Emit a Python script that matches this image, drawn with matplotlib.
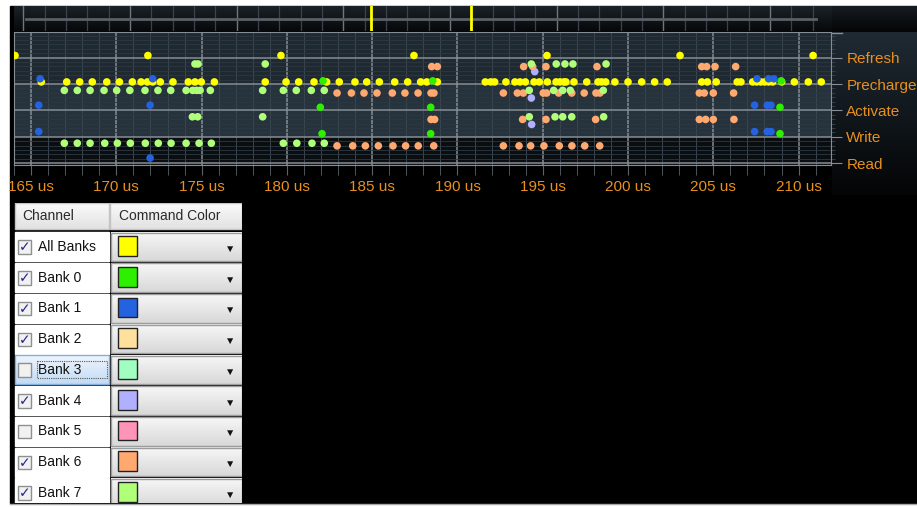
import numpy as np
import matplotlib.pyplot as plt
from matplotlib.patches import Rectangle
from matplotlib.colors import LinearSegmentedColormap
from matplotlib.ticker import MultipleLocator

plt.rcParams['font.family'] = ['Liberation Sans', 'DejaVu Sans']

# ---- data -------------------------------------------------------------
commands = ['Read', 'Write', 'Activate', 'Precharge', 'Refresh']
x_ticks = [165, 170, 175, 180, 185, 190, 195, 200, 205, 210]

channels = ['All Banks', 'Bank 0', 'Bank 1', 'Bank 2', 'Bank 3',
            'Bank 4', 'Bank 5', 'Bank 6', 'Bank 7']
enabled = [True, True, True, True, False, True, False, True, True]
channel_colors = ['#ffff00', '#2cf000', '#2462e0', '#ffe09c', '#a0ffc0',
                  '#b0b0ff', '#ff94b8', '#ffa870', '#b0ff78']
selected = 'Bank 3'

# command times (us)
all_refresh = [164.06, 171.85, 179.65, 187.45, 195.25, 203.05, 210.85]
all_precharge = [165.60, 167.09, 167.85, 168.59, 169.44, 170.18, 170.94, 171.45,
                 171.82, 172.13, 172.58, 173.32, 174.22, 174.61, 174.98, 175.75,
                 178.73, 179.95, 180.69, 181.59, 182.33, 183.07, 183.99, 184.68,
                 185.42, 186.32, 187.08, 187.84, 188.20, 188.82, 191.63, 191.95,
                 192.18, 192.84, 193.37, 193.67, 193.98, 194.49, 194.80, 195.27,
                 195.78, 196.01, 196.24, 196.36, 196.83, 197.58, 198.24, 198.45,
                 198.69, 199.23, 200.00, 200.80, 201.56, 202.30, 204.32, 204.65,
                 205.17, 206.40, 206.62, 207.31, 207.54, 207.78, 208.01, 208.24,
                 208.48, 209.01, 209.75, 210.57, 211.33]

b0_precharge = [182.12, 188.55, 208.98]
b0_activate = [181.96, 188.43, 208.91]
b0_write = [182.06, 188.43, 208.91]

b1_precharge = [165.53, 172.13, 207.56, 208.24, 208.55]
b1_activate = [165.45, 171.98, 207.42, 208.16, 208.38]
b1_write = [165.45, 207.42, 208.16, 208.38]
b1_read = [171.98]

b4_precharge = [194.53]
b4_activate = [194.33]
b4_write = [194.35]

b6_precharge = [188.49, 188.82, 193.88, 194.41, 195.19, 198.18, 204.32, 204.61,
                205.10, 206.31]
b6_activate = [182.94, 183.78, 184.52, 185.28, 186.18, 186.92, 187.69, 188.45,
               188.62, 192.69, 193.51, 193.86, 195.03, 195.23, 195.93, 196.70,
               197.43, 198.12, 198.35, 204.18, 204.47, 205.00, 206.19]
b6_write = [188.45, 188.66, 193.82, 195.19, 198.10, 204.18, 204.55, 205.00, 206.21]
b6_read = [182.94, 183.86, 184.60, 185.36, 186.22, 186.96, 187.70, 188.61,
           192.69, 193.61, 194.29, 195.07, 195.97, 196.71, 197.46, 198.34]

b7_precharge = [174.61, 174.79, 178.73, 194.33, 195.79, 196.30, 196.77, 198.71]
b7_activate = [166.95, 167.71, 168.46, 169.28, 170.02, 170.79, 171.68, 172.44,
               173.19, 174.09, 174.48, 174.71, 174.91, 175.51, 178.58, 179.79,
               180.55, 181.43, 182.19, 194.21, 195.64, 196.17, 196.61, 198.55]
b7_write = [174.46, 174.77, 178.58, 194.21, 195.72, 196.17, 196.70, 198.57]
b7_read = [166.95, 167.71, 168.46, 169.32, 170.06, 170.82, 171.70, 172.46,
           173.21, 174.09, 174.85, 175.57, 179.79, 180.58, 181.47, 182.19]

# overview bar: visible-window markers
overview_marks = [16.3, 21.0]

series = [
    ('All Banks', 'Refresh', all_refresh), ('All Banks', 'Precharge', all_precharge),
    ('Bank 0', 'Precharge', b0_precharge), ('Bank 0', 'Activate', b0_activate),
    ('Bank 0', 'Write', b0_write),
    ('Bank 1', 'Precharge', b1_precharge), ('Bank 1', 'Activate', b1_activate),
    ('Bank 1', 'Write', b1_write), ('Bank 1', 'Read', b1_read),
    ('Bank 4', 'Precharge', b4_precharge), ('Bank 4', 'Activate', b4_activate),
    ('Bank 4', 'Write', b4_write),
    ('Bank 6', 'Precharge', b6_precharge), ('Bank 6', 'Activate', b6_activate),
    ('Bank 6', 'Write', b6_write), ('Bank 6', 'Read', b6_read),
    ('Bank 7', 'Precharge', b7_precharge), ('Bank 7', 'Activate', b7_activate),
    ('Bank 7', 'Write', b7_write), ('Bank 7', 'Read', b7_read),
]

# lane offset of each channel inside a command row
lane = {'All Banks': 0.08, 'Bank 0': 0.12, 'Bank 1': 0.2, 'Bank 4': 0.47,
        'Bank 6': 0.66, 'Bank 7': 0.76}

# ---- layout helpers ---------------------------------------------------
W, H = 917, 507
ORANGE = '#e8901e'
GRID = '#868d94'


def box(x0, y0, x1, y1):
    return [x0 / W, 1 - y1 / H, (x1 - x0) / W, (y1 - y0) / H]


def vgrad(ax, x0, x1, y0, y1, top, bottom, z=0):
    cmap = LinearSegmentedColormap.from_list('g', [top, bottom])
    ax.imshow(np.linspace(0, 1, 50)[:, None], cmap=cmap, aspect='auto',
              extent=(x0, x1, y1, y0), zorder=z, interpolation='bilinear')


fig = plt.figure(figsize=(W / 100, H / 100), dpi=100, facecolor='white')

# window background
bg = fig.add_axes([0, 0, 1, 1])
bg.axis('off')
bg.add_patch(Rectangle((10, 6), W - 10, 497, color='black', zorder=0))
vgrad(bg, 832, W, 6, 32, '#161c21', '#040506', z=1)
vgrad(bg, 832, W, 32, 195, '#1f2a33', '#040506', z=1)
bg.plot([831, 842], [32.5, 32.5], color=GRID, lw=1, zorder=2)
bg.plot([10, W], [503.5, 503.5], color='#a8a8a8', lw=1, zorder=2)
bg.set_xlim(0, W)
bg.set_ylim(H, 0)

# overview strip
ov = fig.add_axes(box(14, 6, 832, 31))
vgrad(ov, -0.44, 37.9, 1, 0, '#1b2228', '#07090b')
ov.set_xlim(-0.44, 37.9)
ov.set_ylim(0, 1)
ov.xaxis.set_major_locator(MultipleLocator(5))
ov.xaxis.set_minor_locator(MultipleLocator(1))
ov.grid(which='major', axis='x', color='#70767c', lw=1)
ov.grid(which='minor', axis='x', color='#3c444b', lw=0.9)
ov.tick_params(which='both', length=0, labelbottom=False, labelleft=False)
for s in ov.spines.values():
    s.set_visible(False)
ov.axhline(0.5, xmin=0.015, xmax=0.981, color='#5a6066', lw=2)
for m in overview_marks:
    ov.axvline(m, color='#ffff00', lw=2)

# main command chart
ax = fig.add_axes(box(14, 32, 831, 165))
ax.set_facecolor('#1f2a33')
ax.axhspan(3, 6, color='#1f2931', zorder=0.5, lw=0)
ax.axhspan(1, 3, color='#26333d', zorder=0.5, lw=0)
ax.axhspan(-1, 1, color='#0b0e11', zorder=0.5, lw=0)

for ch, cmd, times in series:
    y = commands.index(cmd) + lane[ch]
    ax.scatter(times, [y] * len(times), s=30, color=channel_colors[channels.index(ch)],
               edgecolors='none', zorder=3)

ax.set_xlim(164.0, 211.9)
ax.set_ylim(-0.065, 4.97)
ax.set_xticks(x_ticks, [f'{t} us' for t in x_ticks])
ax.set_yticks(range(len(commands)), commands)
ax.xaxis.set_minor_locator(MultipleLocator(1))
ax.yaxis.set_minor_locator(MultipleLocator(1 / 6))
ax.grid(which='major', color=GRID, lw=1.1)
ax.grid(which='minor', axis='x', color='#3a4650', lw=0.7)
ax.grid(which='minor', axis='y', color='#2d3841', lw=0.6)
ax.tick_params(axis='x', which='both', direction='out', length=7, color='#5b636a',
               labelcolor=ORANGE, labelsize=11, pad=4)
ax.tick_params(axis='y', which='major', left=False, right=True, labelleft=False,
               labelright=True, length=8, color=GRID, labelcolor=ORANGE,
               labelsize=11, pad=3)
ax.tick_params(axis='y', which='minor', left=False, right=True, length=3,
               color='#3a4650')
for s in ax.spines.values():
    s.set_color(GRID)

# channel / colour table
tb = fig.add_axes(box(14, 203, 242, 503))
tb.axis('off')
vgrad(tb, 0.5, 94.5, -0.92, -0.07, '#fbfbfb', '#e2e2e2', z=1)
vgrad(tb, 96, 227.5, -0.92, -0.07, '#fbfbfb', '#e2e2e2', z=1)
tb.add_patch(Rectangle((0.5, -0.92), 94, 0.85, fill=False, ec='#c4c4c4', lw=1, zorder=2))
tb.add_patch(Rectangle((96, -0.92), 131.5, 0.85, fill=False, ec='#c4c4c4', lw=1, zorder=2))
tb.text(8.5, -0.5, 'Channel', fontsize=10, color='#2a2a2a', va='center', zorder=3)
tb.text(105, -0.5, 'Command Color', fontsize=10, color='#2a2a2a', va='center', zorder=3)

for i, (name, on, col) in enumerate(zip(channels, enabled, channel_colors)):
    if name == selected:
        vgrad(tb, 0.5, 94.5, i + 0.03, i + 0.97, '#eef5fd', '#c3dbf5', z=1)
        tb.add_patch(Rectangle((0.5, i + 0.03), 94, 0.94, fill=False, ec='#86aedc',
                               lw=1, zorder=2))
        tb.add_patch(Rectangle((22.5, i + 0.2), 70, 0.56, fill=False, ec='#555555',
                               ls=(0, (1, 1)), lw=0.8, zorder=3))
    else:
        tb.add_patch(Rectangle((0.5, i + 0.03), 94, 0.94, color='white', zorder=1))
    tb.add_patch(Rectangle((3.5, i + 0.29), 13.5, 0.44, fc='#f1f1f1', ec='#8e8f8f',
                           lw=1, zorder=3))
    if on:
        tb.text(10.3, i + 0.52, '✓', fontsize=10, fontweight='bold', color='#23238a',
                ha='center', va='center', zorder=4)
    tb.text(24, i + 0.5, name, fontsize=10, color='#111111', va='center', zorder=4)

    vgrad(tb, 97, 227.5, i + 0.04, i + 0.96, '#f7f7f7', '#d8d8d8', z=1)
    tb.add_patch(Rectangle((97, i + 0.04), 130.5, 0.92, fill=False, ec='#9c9c9c',
                           lw=1, zorder=2))
    tb.add_patch(Rectangle((104, i + 0.15), 19, 0.64, fc=col, ec='#222222', lw=1,
                           zorder=3))
    tb.text(216, i + 0.56, '▼', fontsize=7.5, color='#111111', ha='center',
            va='center', zorder=3)

tb.set_xlim(0, 228)
tb.set_ylim(8.829, -0.927)

fig.savefig('out.png', dpi=100, facecolor='white')
